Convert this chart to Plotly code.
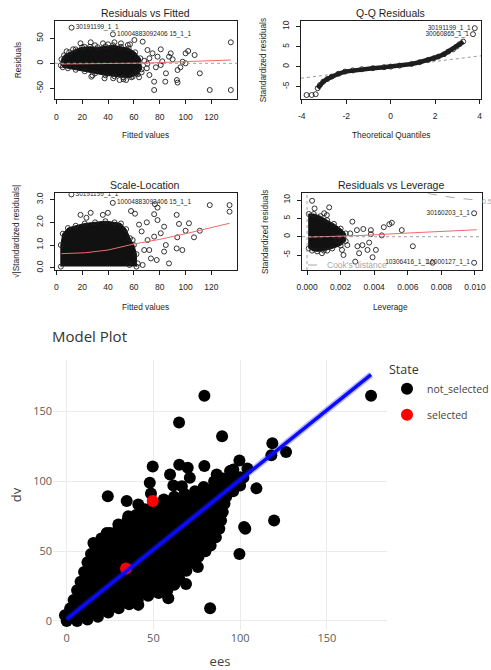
import plotly.graph_objects as go

W, H = 491, 670
RF = "Liberation Sans, Arial, sans-serif"
INK = "#1e1e1e"
SMOOTH = "#f06a6a"

# ---------------- Residuals vs Fitted ----------------
rvf_core = [(3.5, -4), (4, 8), (6, 16), (10, 22), (15, 28), (20, 32), (26, 33), (32, 32), (38, 34),
            (44, 36), (50, 33), (56, 30), (61, 22), (65, 10), (66, -12), (63, -22), (58, -28),
            (52, -28), (45, -26), (38, -24), (30, -20), (22, -16), (15, -13), (9, -10), (5, -8)]
rvf_points = [(135, 42), (135, -53.4), (118.7, -53.4), (111, -20), (107, 16.6), (102, 24.6), (100, 20),
              (97.7, 3.2), (93.8, -13.4), (93.3, -33.4), (93.8, -38.6), (84.8, -20), (84.3, -36.7),
              (80.8, -3.4), (80.8, 28), (75.7, -36.7), (75.7, -53.4), (72, -23.4), (70.5, -1),
              (66.8, 43.2), (60.4, 46.6), (55.3, 36.6), (59.1, -26.8), (54, -33.4), (48.9, -33.4),
              (36.1, 40), (26.6, 42), (18.7, 40), (21.7, 33), (37.3, -30), (27.1, -26.8), (100, 0),
              (87.2, 13.2), (88.5, 19.9), (78.3, 13.2), (74.4, 20), (70.5, 26.6), (68, 5), (72, 10),
              (66, -18), (70, -10), (62, -20), (57, 38), (50, 40), (45, 42), (40, 38), (30, 36),
              (13, 28), (8, 24), (28, -24), (44, -30), (52, -32), (64, -28), (77, -8), (82, 4),
              (90, 8), (96, -8)]
rvf_smooth = [(4, -1.5), (40, -0.5), (70, 0.5), (100, 3.5), (135, 6.5)]
rvf_labelled = [(11.8, 71.2, "30191199_1_1"), (43.8, 58, "10004883092406 15_1_1")]

# ---------------- Q-Q Residuals ----------------
qq_points = [(-3.78, -7.1), (-3.55, -7.1), (-3.37, -6.9), (-3.28, -5.4), (-3.18, -4.6), (-3.03, -3.75),
             (-2.85, -3.1), (-2.65, -2.5), (-2.35, -1.8), (-2.05, -1.25), (-1.7, -0.95), (-1.3, -0.67),
             (-0.8, -0.4), (-0.3, -0.15), (0, 0), (0.4, 0.25), (0.94, 0.67), (1.3, 1.1), (1.69, 1.67),
             (1.95, 2.1), (2.14, 2.5), (2.4, 3.1), (2.59, 3.75), (2.8, 4.3), (2.96, 5.0), (3.1, 5.6),
             (3.26, 6.25)]
qq_ref = [(-4.03, -2.9), (4.06, 2.7)]
qq_labelled = [(3.78, 9.6, "30191199_1_1"), (3.7, 8.1, "30060865_1_1")]

# ---------------- Scale-Location ----------------
sl_core = [(3.5, 0.05), (3.5, 1.0), (5, 1.5), (9, 1.75), (15, 1.85), (22, 1.95), (30, 2.0), (38, 2.05),
           (45, 2.0), (50, 1.95), (54, 1.7), (57, 1.3), (60, 1.0), (62, 0.6), (62, 0.05)]
sl_points = [(118.7, 2.76), (134, 2.76), (134, 2.47), (111, 1.63), (106.5, 1.34), (102.6, 1.96),
             (100, 1.63), (93.1, 2.33), (94.9, 1.93), (97.5, 0.78), (93.1, 0.85), (93.6, 1.34),
             (83.4, 1.81), (78.3, 2.1), (76.3, 2.8), (84.7, 1.0), (83.4, 0.71), (87.2, 0.19),
             (77.7, 0.34), (73.2, 0.41), (75.7, 1.37), (70.6, 1.22), (68, 0.78), (66.8, 0.12),
             (59.1, 1.22), (57.8, 2.5), (60.9, 2.38), (39.9, 2.42), (36, 2.33), (26.6, 2.42),
             (18.7, 2.33), (23.3, 2.2), (56.6, 0.12), (63, 0.19), (71.9, 0.78), (80.8, 1.52),
             (75.7, 2.36), (78.3, 2.65), (66, 1.6), (64, 1.9), (70, 2.0)]
sl_smooth = [(4, 0.62), (22.5, 0.66), (40, 0.78), (60.4, 1.05), (80, 1.25), (100, 1.5), (134, 1.96)]
sl_labelled = [(11.7, 3.23, "30191199_1_1"), (43.7, 2.86, "10004883092406 15_1_1")]

# ---------------- Residuals vs Leverage ----------------
rl_core = [(0.0001, -3.2), (0.0001, 6.2), (0.0004, 6.2), (0.0008, 5.6), (0.0012, 4.5), (0.0016, 3.5),
           (0.0020, 2.2), (0.0023, 0.9), (0.0023, -1.2), (0.0020, -2.4), (0.0015, -3.2),
           (0.0010, -3.8), (0.0006, -4.0), (0.0003, -3.8)]
rl_points = [(0.0003, 9.8), (0.00045, 7.7), (0.00132, 8.0), (0.00102, 6.4), (0.00118, 5.9),
             (0.0027, 4.1), (0.00297, 1.8), (0.00257, 0.9), (0.00335, 2.1), (0.0038, 1.8),
             (0.0038, 0.7), (0.00457, 2.6), (0.0049, 3.4), (0.00505, 3.8), (0.00445, 0.36),
             (0.00564, 1.8), (0.0063, -2.6), (0.00287, -6.8), (0.00217, -5.0), (0.00208, -3.6),
             (0.0031, -4.5), (0.0036, -3.6), (0.0039, -5.6), (0.0041, -3.6), (0.0030, -2.6),
             (0.0037, -1.6), (0.0033, -2.3), (0.0024, -2.3), (0.0018, -0.9), (0.0012, -3.8),
             (0.00089, -4.5), (0.0019, 0.0)]
rl_smooth = [(0.0001, -0.1), (0.003, 0.3), (0.006, 1.0), (0.0101, 1.9)]
rl_cook = [(0.0072, 11.8), (0.0085, 10.8), (0.0104, 9.8)]
rl_labelled = [(0.00995, 6.4, "30160203_1_1"), (0.00748, -7.1, "10306416_1_1"),
               (0.00995, -7.1, "10000127_1_1")]

# ---------------- Model Plot ----------------
ees_not_selected = [79.4, 175.5, 64.8, 89.6, 118.6, 118, 126.5, 99.6, 49.6, 64.9, 69.8, 79.4, 59.6,
                    71, 86.5, 94.2, 96.1, 104.2, 101.9, 86.5, 47.9, 109.4, 23.7, 34.6, 41.3, 48.6,
                    61.5, 66.4, 119.6, 102.3, 103, 99.6, 82.7, 75.6, 68.8, 58.6, 41.3, 23.1, 15.4,
                    29.8, 35.5]
dv_not_selected = [161.4, 161.4, 142.2, 132.3, 127.3, 118.7, 121, 115, 110.6, 112, 109.8, 111, 105,
                   102.6, 105, 107.4, 108.6, 109.3, 102.7, 97.8, 99, 95, 89.4, 86, 83.5, 91.4,
                   97, 96.6, 71.9, 67.4, 66, 48, 9.1, 38.6, 26.4, 16.3, 11.5, 63.1, 55.9,
                   69.1, 75]
# outline of the densely overplotted cloud
cloud_ees = [0, 6, 12, 18, 24, 30, 36, 41, 47, 53, 58, 62, 65, 69, 72, 76, 80, 83, 86, 88, 89, 90, 91,
             92, 96, 100, 100, 95, 90, 85, 79, 74, 68, 62, 56, 50, 45, 40, 35, 30, 25, 20, 16, 14, 12,
             10, 8, 6, 4, 2, -1]
cloud_dv = [0, 0, 1, 3, 6, 9, 12, 15, 18, 20, 22, 26, 30, 36, 42, 46, 50, 54, 60, 66, 72, 78, 84,
            89, 93, 97, 103, 104, 102, 100, 96, 93, 91, 89, 87, 84, 80, 76, 72, 67, 63, 59, 55, 48,
            42, 35, 28, 22, 15, 9, 4]
ees_selected = [34.2, 49.6]
dv_selected = [37.5, 86]
fit_ees = [0, 175.5]
fit_dv = [1.2, 176.5]


def col(pts, i):
    return [p[i] for p in pts]


def px_x(a, b):
    return [a / W, b / W]


def px_y(top, bot):
    return [1 - bot / H, 1 - top / H]


traces = []


def add_core(pts, xa, ya):
    traces.append(go.Scatter(x=col(pts, 0), y=col(pts, 1), xaxis=xa, yaxis=ya, mode="lines+markers",
                             fill="toself", fillcolor="#111111", line=dict(color="#111111", width=1),
                             marker=dict(symbol="circle-open", size=5, color=INK, line=dict(width=0.9)),
                             hoverinfo="skip", showlegend=False))


def add_points(pts, xa, ya):
    traces.append(go.Scatter(x=col(pts, 0), y=col(pts, 1), xaxis=xa, yaxis=ya, mode="markers",
                             marker=dict(symbol="circle-open", size=5, color=INK, line=dict(width=0.9)),
                             showlegend=False))


def add_line(pts, xa, ya, color, width=1, dash="solid"):
    traces.append(go.Scatter(x=col(pts, 0), y=col(pts, 1), xaxis=xa, yaxis=ya, mode="lines",
                             line=dict(color=color, width=width, dash=dash), hoverinfo="skip",
                             showlegend=False))


def add_labels(pts, xa, ya, side):
    traces.append(go.Scatter(x=col(pts, 0), y=col(pts, 1), xaxis=xa, yaxis=ya, mode="markers+text",
                             text=col(pts, 2), textposition=side,
                             textfont=dict(family=RF, size=6.5, color=INK),
                             marker=dict(symbol="circle-open", size=5, color=INK, line=dict(width=0.9)),
                             showlegend=False))


# panel 1
add_core(rvf_core, "x", "y")
add_points(rvf_points, "x", "y")
add_labels(rvf_labelled, "x", "y", "middle right")
add_line(rvf_smooth, "x", "y", SMOOTH)
# panel 2
add_line(qq_ref, "x2", "y2", "#9a9a9a", 1, "dot")
add_line(qq_points[3:], "x2", "y2", INK, 4.5)
add_points(qq_points, "x2", "y2")
add_labels(qq_labelled, "x2", "y2", "middle left")
# panel 3
add_core(sl_core, "x3", "y3")
add_points(sl_points, "x3", "y3")
add_labels(sl_labelled, "x3", "y3", "middle right")
add_line(sl_smooth, "x3", "y3", SMOOTH)
# panel 4
add_line(rl_cook, "x4", "y4", "#a8a8a8", 1, "dash")
add_core(rl_core, "x4", "y4")
add_points(rl_points, "x4", "y4")
add_labels(rl_labelled, "x4", "y4", "middle left")
add_line(rl_smooth, "x4", "y4", SMOOTH)

# model plot
traces.append(go.Scatter(x=cloud_ees, y=cloud_dv, xaxis="x5", yaxis="y5", mode="markers", fill="toself",
                         fillcolor="black", line=dict(color="black", width=1),
                         marker=dict(size=12, color="black"), hoverinfo="skip", showlegend=False,
                         legendgroup="not_selected"))
traces.append(go.Scatter(x=ees_not_selected, y=dv_not_selected, xaxis="x5", yaxis="y5", mode="markers",
                         name="not_selected", legendgroup="not_selected",
                         marker=dict(size=12, color="black")))
traces.append(go.Scatter(x=ees_selected, y=dv_selected, xaxis="x5", yaxis="y5", mode="markers",
                         name="selected", legendgroup="selected",
                         marker=dict(size=12, color="#ff0000")))
traces.append(go.Scatter(x=fit_ees, y=fit_dv, xaxis="x5", yaxis="y5", mode="lines",
                         line=dict(color="rgba(30,30,255,0.3)", width=6.5), hoverinfo="skip",
                         showlegend=False))
traces.append(go.Scatter(x=fit_ees, y=fit_dv, xaxis="x5", yaxis="y5", mode="lines",
                         line=dict(color="#0a0aff", width=3.5), hoverinfo="skip", showlegend=False))

fig = go.Figure(traces)

r_tick = dict(family=RF, size=8.5, color=INK)


def r_axis(dom, rng, anchor, vals, text, **kw):
    d = dict(domain=dom, range=rng, anchor=anchor, showgrid=False, zeroline=False, showline=True,
             mirror=True, linecolor=INK, linewidth=1, ticks="outside", ticklen=4, tickwidth=1,
             tickcolor=INK, tickfont=r_tick, tickvals=vals, ticktext=text, fixedrange=True)
    d.update(kw)
    return d


fitted_ticks = [0, 20, 40, 60, 80, 100, 120]
fitted_text = [str(v) for v in fitted_ticks]

fig.update_layout(
    width=W, height=H, autosize=False, template="none",
    margin=dict(l=0, r=0, t=0, b=0, autoexpand=False),
    paper_bgcolor="white", plot_bgcolor="white",
    xaxis=r_axis(px_x(55, 237.3), [-1, 140], "y", fitted_ticks, fitted_text, ticklabelstandoff=5),
    yaxis=r_axis(px_y(21, 99.3), [-72, 84.6], "x", [-50, 0, 50], ["-50", "0", "50"],
                 tickangle=-90, ticklabelstandoff=4),
    xaxis2=r_axis(px_x(301, 481), [-4.03, 4.06], "y2", [-4, -2, 0, 2, 4], ["-4", "-2", "0", "2", "4"],
                  ticklabelstandoff=5),
    yaxis2=r_axis(px_y(21, 99), [-8.1, 11.4], "x2", [-5, 0, 5, 10], ["-5", "0", "5", "10"],
                  tickangle=-90, ticklabelstandoff=4),
    xaxis3=r_axis(px_x(55, 237.3), [-1, 140], "y3", fitted_ticks, fitted_text, ticklabelstandoff=5),
    yaxis3=r_axis(px_y(193.3, 270), [-0.1, 3.28], "x3", [0, 1, 2, 3], ["0.0", "1.0", "2.0", "3.0"],
                  tickangle=-90, ticklabelstandoff=4),
    xaxis4=r_axis(px_x(302, 481.7), [-0.0003, 0.0104], "y4", [0, 0.002, 0.004, 0.006, 0.008, 0.010],
                  ["0.000", "0.002", "0.004", "0.006", "0.008", "0.010"], ticklabelstandoff=5),
    yaxis4=r_axis(px_y(193.3, 270), [-9.08, 11.84], "x4", [-5, 0, 5, 10], ["-5", "0", "5", "10"],
                  tickangle=-90, ticklabelstandoff=4),
    xaxis5=dict(domain=px_x(53, 387), range=[-7.9, 184.7], anchor="y5", showgrid=True,
                gridcolor="#ebebeb", zeroline=False, showline=False, ticks="",
                tickfont=dict(size=11, color="#5a5a5a"),
                title=dict(text="ees", font=dict(size=13, color="#444"), standoff=13)),
    yaxis5=dict(domain=px_y(360, 630), range=[-6.5, 187], anchor="x5", showgrid=True,
                gridcolor="#ebebeb", zeroline=False, showline=False, ticks="",
                tickvals=[0, 50, 100, 150], tickfont=dict(size=11, color="#5a5a5a"),
                title=dict(text="dv", font=dict(size=13, color="#444"), standoff=8)),
    title=dict(text="Model Plot", x=52 / W, xanchor="left", y=1 - 337 / H, yanchor="middle",
               font=dict(size=15, color="#333")),
    legend=dict(x=387 / W, y=1 - 358 / H, xanchor="left", yanchor="top", traceorder="grouped",
                tracegroupgap=7, bgcolor="rgba(0,0,0,0)",
                title=dict(text="State", font=dict(size=12.5, color="#333")),
                font=dict(size=10.5, color="#444")),
    showlegend=True,
)


def note(text, x, y, size, angle=0, color=INK, anchor="center"):
    return dict(text=text, x=x / W, y=1 - y / H, xref="paper", yref="paper", showarrow=False,
                textangle=angle, xanchor=anchor, yanchor="middle",
                font=dict(family=RF, size=size, color=color))


fig.update_layout(annotations=[
    note("Residuals vs Fitted", 145.3, 12.7, 10.5),
    note("Q-Q Residuals", 390.7, 12.7, 10.5),
    note("Scale-Location", 145.3, 185, 10.5),
    note("Residuals vs Leverage", 390.7, 185, 10.5),
    note("Fitted values", 145, 135, 8.3),
    note("Theoretical Quantiles", 390.7, 135, 8.3),
    note("Fitted values", 145, 306.7, 8.3),
    note("Leverage", 390.7, 306.7, 8.3),
    note("Residuals", 18.3, 60, 8.3, -90),
    note("Standardized residuals", 263.3, 60, 8.3, -90),
    note("√|Standardized residuals|", 16, 232, 8.3, -90),
    note("Standardized residuals", 265, 232, 8.3, -90),
    note("Cook's distance", 325, 265, 8.5, 0, "#a8a8a8", "left"),
    note("0.5", 480, 201, 7, 0, "#a8a8a8", "left"),
])

dotted = dict(color="#a0a0a0", width=1, dash="dot")
fig.update_layout(shapes=[
    dict(type="line", xref="x domain", yref="y", x0=0, x1=1, y0=0, y1=0, line=dotted),
    dict(type="line", xref="x4 domain", yref="y4", x0=0, x1=1, y0=0, y1=0, line=dotted),
    dict(type="line", xref="x4", yref="y4 domain", x0=0, x1=0, y0=0, y1=1, line=dotted),
    dict(type="line", xref="paper", yref="paper", x0=308 / W, x1=323 / W, y0=1 - 265 / H,
         y1=1 - 265 / H, line=dict(color="#a8a8a8", width=1, dash="dash")),
])

fig.write_html("out.html")
